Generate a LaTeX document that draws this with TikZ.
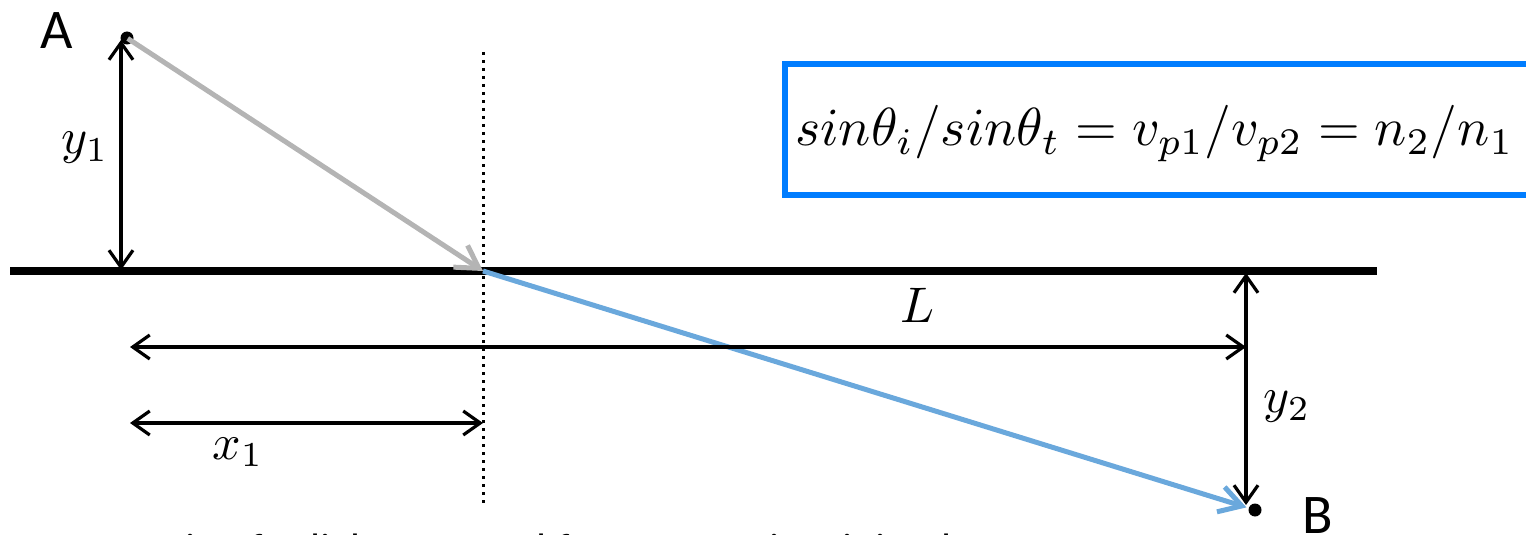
\documentclass[tikz,border=0pt]{standalone}
\usepackage{amsmath,graphicx,fontspec}
\usetikzlibrary{arrows.meta,positioning}
\newfontfamily\slidefont{Carlito}
\definecolor{lawblue}{RGB}{0,125,255}
\definecolor{rayblue}{RGB}{106,168,220}
\definecolor{raygray}{RGB}{180,180,180}
\newcommand{\DimLabel}[1]{\scalebox{2.5}{$#1$}}
\newcommand{\LawText}[1]{\scalebox{2.68}{$#1$}}

\begin{document}
\begin{tikzpicture}[x=0.5pt,y=-0.5pt,
  >={Straight Barb[length=8.5pt,width=12pt]},
  dot/.style={circle,fill,inner sep=0pt,minimum size=6.5pt},
  dim/.style={<->,line width=1.6pt},
  ray/.style={->,line width=2.5pt,>={Straight Barb[length=11pt,width=13pt]}},
  lbl/.style={inner sep=0pt},
  pt/.style={font=\slidefont\fontsize{28}{34}\selectfont,inner sep=0pt}]
\useasboundingbox (0,0) rectangle (1526,535);
\clip (0,0) rectangle (1526,535);
% interface between the two media
\coordinate (sL) at (10,271);
\coordinate (sR) at (1377,271);
\draw[line width=4pt] (sL) -- (sR);
% normal at the point of refraction
\coordinate (O) at (483,271);
\coordinate (nTop) at (483,52);
\coordinate (nBot) at (483,503);
\draw[line width=1.5pt,dash pattern=on 1.5pt off 2.5pt] (nTop) -- (nBot);
% end points
\node[dot] (A) at (127,38) {};
\node[dot] (B) at (1255,510) {};
\node[pt] (Alab) at (57,31) {A};
\node[pt] (Blab) at (1318,516) {B};
% rays
\draw[ray,raygray,shorten <=-3pt] (A) -- (O);
\draw[ray,rayblue,shorten >=1pt] (O) -- (B);
% dimensions
\coordinate (y1t) at (121,40);
\coordinate (y1b) at (121,270);
\coordinate (Ll) at (130,347);
\coordinate (Lr) at (1246,347);
\coordinate (x1l) at (130,423);
\coordinate (x1r) at (483,423);
\coordinate (y2t) at (1246,273);
\coordinate (y2b) at (1246,505);
\draw[dim] (y1t) -- (y1b);
\draw[dim] (Ll) -- (Lr);
\draw[dim] (x1l) -- (x1r);
\draw[dim] (y2t) -- (y2b);
\node[lbl] (y1lab) at (85,148) {\DimLabel{y_1}};
\node[lbl] (Llab) at (918,305) {\DimLabel{L}};
\node[lbl] (x1lab) at (238,452) {\DimLabel{x_1}};
\node[lbl] (y2lab) at (1287,407) {\DimLabel{y_2}};
% Snell's law
\draw[lawblue,line width=3pt] (785,64.5) rectangle (1560,194.5);
\node[inner sep=0pt,anchor=base west] (law) at (795,146)
  {\LawText{sin\theta_i/sin\theta_t = v_{p1}/v_{p2} = n_2/n_1}};
% caption, cut by the frame
\node[font=\slidefont\fontsize{22}{27}\selectfont,inner sep=0pt,anchor=base west] (note) at (-25,564)
  {even assuming for light to travel from A to B is minimal};
\end{tikzpicture}
\end{document}
